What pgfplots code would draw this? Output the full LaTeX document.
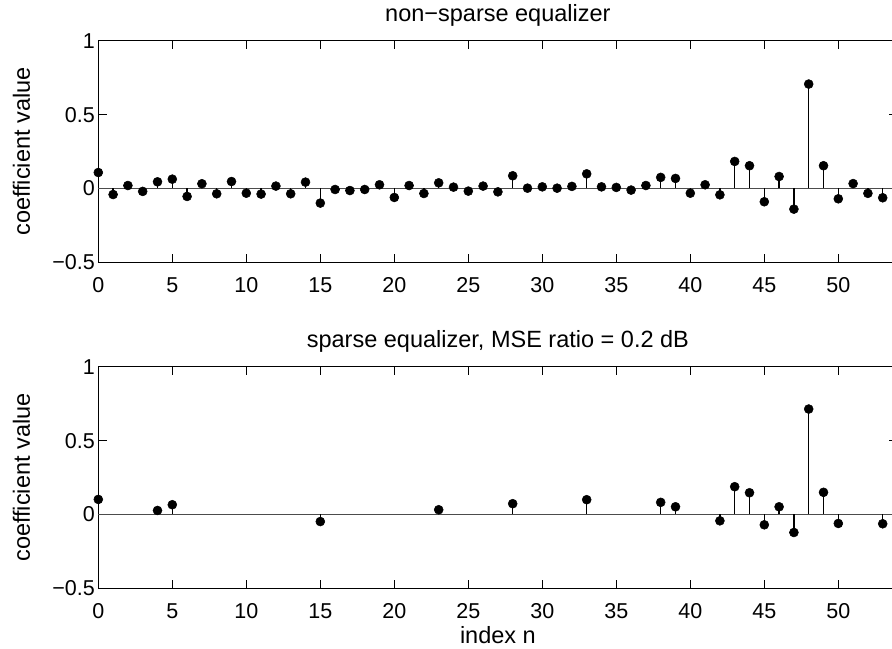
\documentclass[border=0pt]{standalone}
\usepackage{fontspec}
\setmainfont{Liberation Sans}
\usepackage{pgfplots}
\pgfplotsset{compat=1.18}
\newcommand\lblfont{\fontsize{23.5bp}{28bp}\selectfont}
\newcommand\tckfont{\fontsize{21.5bp}{25bp}\selectfont}
\pgfplotsset{
  stemax/.style={
    scale only axis, width=799.2bp, height=221.5bp,
    xmin=0, xmax=54, ymin=-0.5, ymax=1,
    xtick={0,5,...,50}, ytick={-0.5,0,0.5,1},
    yticklabels={−0.5,0,0.5,1},
    tick align=inside, major tick length=8.5bp,
    xtick pos=both, ytick pos=both,
    xticklabel pos=lower, yticklabel pos=left,
    axis line style={line width=1.1bp, black},
    tick style={line width=1bp, black},
    /pgf/number format/assume math mode=true,
    tick label style={font=\tckfont},
    xticklabel style={anchor=base, yshift=-30bp},
    clip=false,
    every axis title/.style={at={(axis description cs:0.5,1.087)}, anchor=base, font=\lblfont},
    every axis y label/.style={at={(axis description cs:-0.0855,0.5)}, anchor=base, rotate=90, font=\lblfont},
    every axis x label/.style={at={(axis description cs:0.5,-0.248)}, anchor=base, font=\lblfont},
  },
  stem/.style={ycomb, black, line width=1.25bp, mark=*, mark size=4.5bp, mark options={fill=black, solid, line width=0.5bp}},
  base/.style={black!70, line width=1.1bp, forget plot, mark=none},
}
\pgfplotstableread{
n y
0 0.108
1 -0.041
2 0.020
3 -0.020
4 0.045
5 0.063
6 -0.054
7 0.032
8 -0.036
9 0.047
10 -0.032
11 -0.038
12 0.016
13 -0.036
14 0.043
15 -0.099
16 -0.007
17 -0.014
18 -0.007
19 0.025
20 -0.061
21 0.020
22 -0.034
23 0.038
24 0.009
25 -0.018
26 0.016
27 -0.023
28 0.086
29 0.002
30 0.011
31 0.002
32 0.014
33 0.099
34 0.011
35 0.007
36 -0.011
37 0.020
38 0.075
39 0.068
40 -0.032
41 0.025
42 -0.043
43 0.183
44 0.154
45 -0.090
46 0.081
47 -0.140
48 0.707
49 0.154
50 -0.070
51 0.033
52 -0.033
53 -0.063
}\nonsparse
\pgfplotstableread{
n y
0 0.102
4 0.027
5 0.066
15 -0.048
23 0.032
28 0.073
33 0.100
38 0.082
39 0.052
42 -0.043
43 0.188
44 0.147
45 -0.070
46 0.052
47 -0.122
48 0.714
49 0.150
50 -0.061
53 -0.063
}\sparse
\begin{document}
\begin{tikzpicture}
\begin{axis}[stemax, at={(98.3bp,386.7bp)}, anchor=south west,
  title={non−sparse equalizer}, ylabel={coefficient value}]
\addplot[base] coordinates {(0,0) (54,0)};
\addplot[stem] table[x=n, y=y] {\nonsparse};
\end{axis}
\begin{axis}[stemax, at={(98.3bp,60.7bp)}, anchor=south west,
  title={sparse equalizer, MSE ratio = 0.2 dB}, ylabel={coefficient value}, xlabel={index n}]
\addplot[base] coordinates {(0,0) (54,0)};
\addplot[stem] table[x=n, y=y] {\sparse};
\end{axis}
\pgfresetboundingbox
\path[use as bounding box] (0,0) rectangle (892bp,649bp);
\end{tikzpicture}
\end{document}
